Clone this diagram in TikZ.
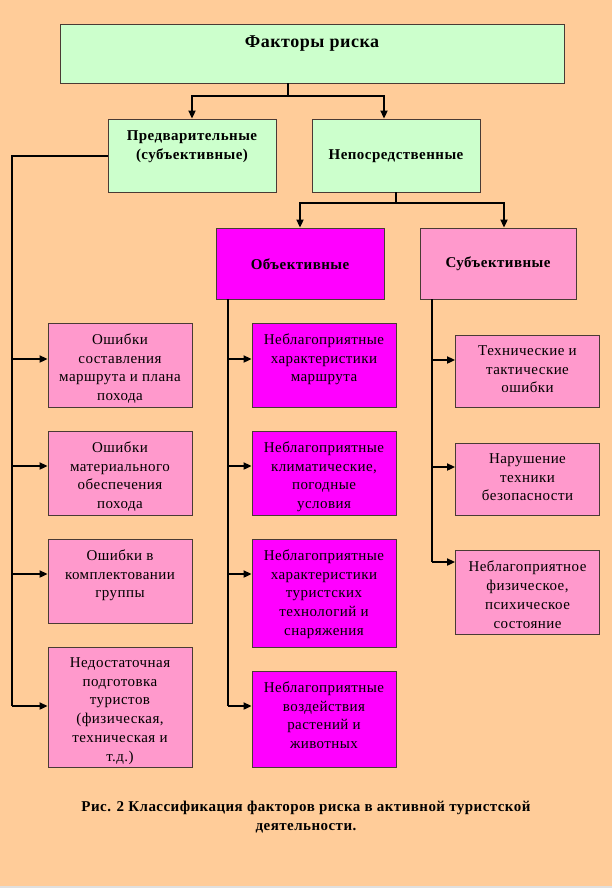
\documentclass[tikz,border=0pt]{standalone}
\usepackage{fontspec}
\setmainfont{Liberation Serif}[LetterSpace=3]
\usetikzlibrary{arrows.meta}
\definecolor{bgc}{HTML}{FFCC99}
\definecolor{greenc}{HTML}{CCFFCC}
\definecolor{pinkc}{HTML}{FF99CC}
\definecolor{magc}{HTML}{FF00FF}
\definecolor{edgec}{HTML}{4A3A34}
\tikzset{
  box/.style={draw=edgec, line width=0.9pt, inner sep=0pt},
  gbox/.style={box, fill=greenc},
  pbox/.style={box, fill=pinkc},
  mbox/.style={box, fill=magc},
  txt/.style={inner sep=0pt, align=center, font=\fontsize{15}{18.7}\selectfont},
  btxt/.style={inner sep=0pt, align=center, font=\fontsize{15}{18.7}\selectfont\bfseries},
  conn/.style={line width=2pt, black},
  arr/.style={conn, -{Triangle[length=8pt,width=7pt]}}
}
\begin{document}
\begin{tikzpicture}[x=1pt,y=-1pt]
\useasboundingbox (0,0) rectangle (612,888);
\fill[bgc] (0,0) rectangle (612,888);
\fill[black!12] (0,886) rectangle (612,888);
% top level
\node[gbox, minimum width=504pt, minimum height=59pt] (top) at (312,53.5) {};
\node[btxt, font=\fontsize{18}{22}\selectfont\bfseries] (topt) at (312,44) {Факторы риска};
\node[gbox, minimum width=168pt, minimum height=73pt] (pred) at (192,155.5) {};
\node[btxt] (predt) at (192,147) {Предварительные\\(субъективные)};
\node[gbox, minimum width=168pt, minimum height=73pt] (nep) at (396,155.5) {};
\node[btxt] (nept) at (396,156) {Непосредственные};
\node[mbox, minimum width=168pt, minimum height=71pt] (obj) at (300,263.5) {};
\node[btxt] (objt) at (300,264) {Объективные};
\node[pbox, minimum width=156pt, minimum height=71pt] (subj) at (498,263.5) {};
\node[btxt] (subjt) at (498,264) {Субъективные};
% left column
\node[pbox, minimum width=144pt, minimum height=84pt] (L1) at (120,365) {};
\node[txt, anchor=north] (L1t) at ([yshift=-11pt]L1.north) {Ошибки\\составления\\маршрута и плана\\похода};
\node[pbox, minimum width=144pt, minimum height=84pt] (L2) at (120,473) {};
\node[txt, anchor=north] (L2t) at ([yshift=-11pt]L2.north) {Ошибки\\материального\\обеспечения\\похода};
\node[pbox, minimum width=144pt, minimum height=84pt] (L3) at (120,581) {};
\node[txt, anchor=north] (L3t) at ([yshift=-11pt]L3.north) {Ошибки в\\комплектовании\\группы};
\node[pbox, minimum width=144pt, minimum height=120pt] (L4) at (120,707) {};
\node[txt, anchor=north] (L4t) at ([yshift=-11pt]L4.north) {Недостаточная\\подготовка\\туристов\\(физическая,\\техническая и\\т.д.)};
% middle column
\node[mbox, minimum width=144pt, minimum height=84pt] (M1) at (324,365) {};
\node[txt, anchor=north] (M1t) at ([yshift=-11pt]M1.north) {Неблагоприятные\\характеристики\\маршрута};
\node[mbox, minimum width=144pt, minimum height=84pt] (M2) at (324,473) {};
\node[txt, anchor=north] (M2t) at ([yshift=-11pt]M2.north) {Неблагоприятные\\климатические,\\погодные\\условия};
\node[mbox, minimum width=144pt, minimum height=108pt] (M3) at (324,593) {};
\node[txt, anchor=north] (M3t) at ([yshift=-11pt]M3.north) {Неблагоприятные\\характеристики\\туристских\\технологий и\\снаряжения};
\node[mbox, minimum width=144pt, minimum height=96pt] (M4) at (324,719) {};
\node[txt, anchor=north] (M4t) at ([yshift=-11pt]M4.north) {Неблагоприятные\\воздействия\\растений и\\животных};
% right column
\node[pbox, minimum width=144pt, minimum height=72pt] (R1) at (527.5,371) {};
\node[txt, anchor=north] (R1t) at ([yshift=-11pt]R1.north) {Технические и\\тактические\\ошибки};
\node[pbox, minimum width=144pt, minimum height=72pt] (R2) at (527.5,479) {};
\node[txt, anchor=north] (R2t) at ([yshift=-11pt]R2.north) {Нарушение\\техники\\безопасности};
\node[pbox, minimum width=144pt, minimum height=84pt] (R3) at (527.5,592.5) {};
\node[txt, anchor=north] (R3t) at ([yshift=-11pt]R3.north) {Неблагоприятное\\физическое,\\психическое\\состояние};
% caption
\node[btxt] (cap) at (306,817) {Рис. 2 Классификация факторов риска в активной туристской\\деятельности.};
% connectors top
\coordinate (ts) at ([xshift=-24pt]top.south);
\coordinate (tj) at ([xshift=-24pt,yshift=-13pt]top.south);
\draw[conn] (ts) -- (tj);
\draw[arr] (tj) -| (pred.north);
\draw[arr] (tj) -| ([xshift=-12pt]nep.north);
\coordinate (nj) at ([yshift=-11pt]nep.south);
\draw[conn] (nep.south) -- (nj);
\draw[arr] (nj) -| (obj.north);
\draw[arr] (nj) -| ([xshift=6pt]subj.north);
% left spine
\coordinate (lb) at (12,706);
\draw[conn] (pred.west) -| (lb);
\coordinate (L1a) at ([yshift=6pt]L1.west);
\coordinate (L2a) at ([yshift=7pt]L2.west);
\coordinate (L3a) at ([yshift=7pt]L3.west);
\coordinate (L4a) at ([yshift=1pt]L4.west);
\foreach \a in {L1a,L2a,L3a,L4a} \draw[arr] (\a -| lb) -- (\a);
% middle spine
\coordinate (ms) at ([xshift=-72pt]obj.south);
\coordinate (M1a) at ([yshift=6pt]M1.west);
\coordinate (M2a) at ([yshift=7pt]M2.west);
\coordinate (M3a) at ([yshift=19pt]M3.west);
\coordinate (M4a) at ([yshift=13pt]M4.west);
\draw[conn] (ms) -- (ms |- M4a);
\foreach \a in {M1a,M2a,M3a,M4a} \draw[arr] (\a -| ms) -- (\a);
% right spine
\coordinate (rs) at ([xshift=-66pt]subj.south);
\coordinate (R1a) at ([yshift=11pt]R1.west);
\coordinate (R2a) at ([yshift=12pt]R2.west);
\coordinate (R3a) at ([yshift=30.5pt]R3.west);
\draw[conn] (rs) -- (rs |- R3a);
\foreach \a in {R1a,R2a,R3a} \draw[arr] (\a -| rs) -- (\a);
\end{tikzpicture}
\end{document}
